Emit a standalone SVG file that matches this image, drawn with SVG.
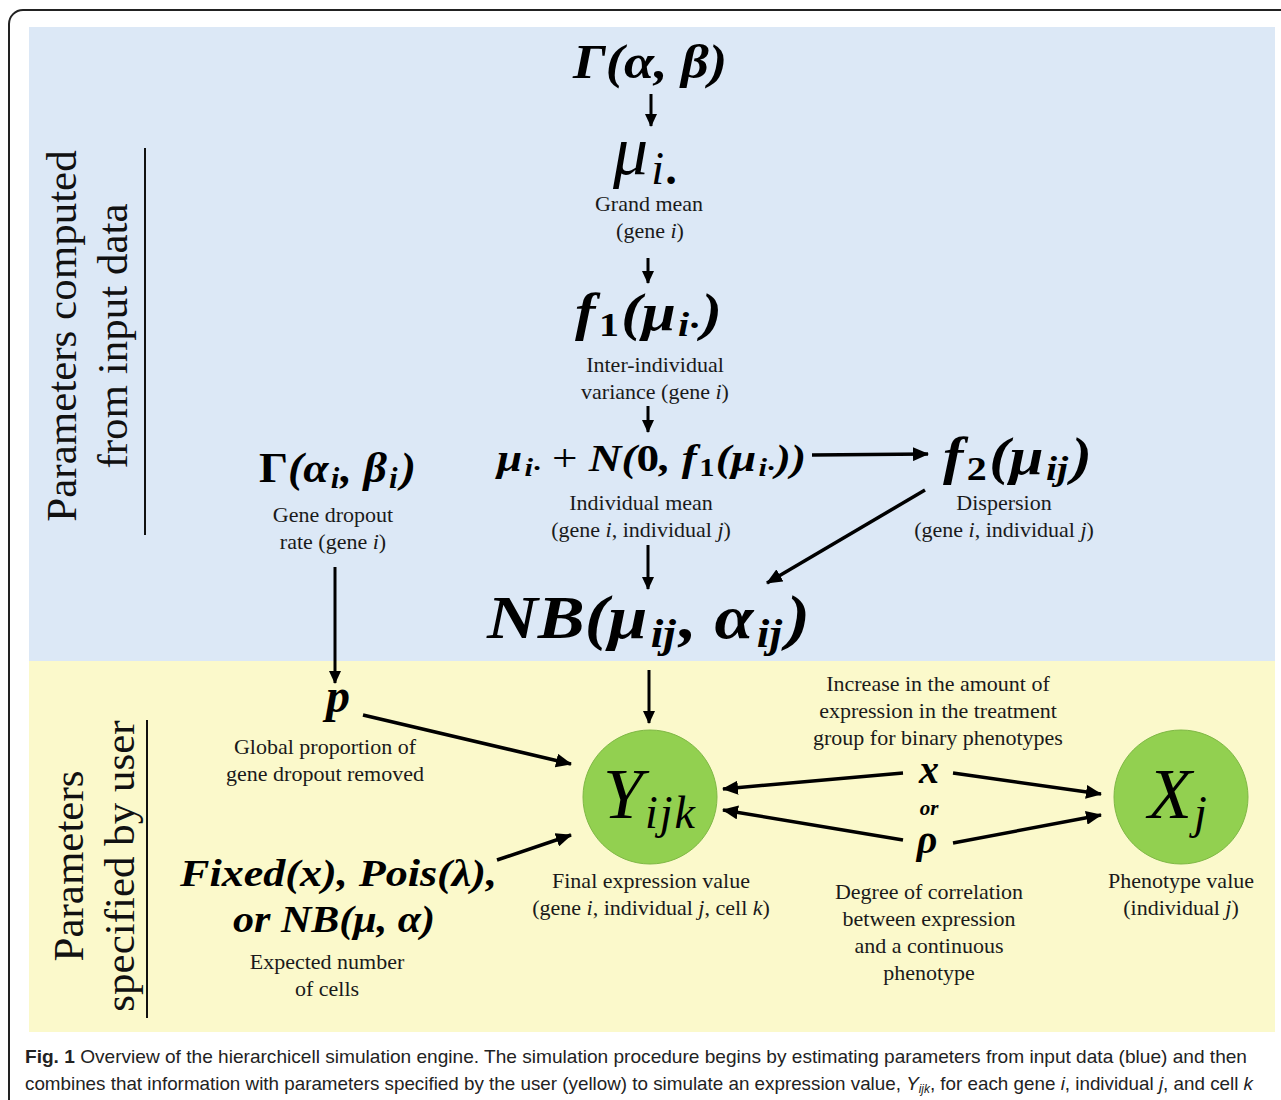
<svg xmlns="http://www.w3.org/2000/svg" width="1281" height="1100" viewBox="0 0 1281 1100">
<defs>
<style>
.lab{font-family:"Liberation Serif",serif;font-size:22px;fill:#1a1a1a;text-anchor:middle}
.m{font-family:"Liberation Serif",serif;font-weight:bold;font-style:italic;fill:#000}
.side{font-family:"Liberation Serif",serif;font-size:43px;fill:#111;text-anchor:middle}
.cap{font-family:"Liberation Sans",sans-serif;font-size:19px;fill:#222}
.conn line{stroke:#000;stroke-width:3.5;fill:none}
.thin{stroke-width:3!important}
.i{font-style:italic}
.u{font-style:normal}
</style>
<marker id="ah" viewBox="0 0 16 14" markerUnits="userSpaceOnUse" markerWidth="16" markerHeight="14" refX="15" refY="7" orient="auto">
<path d="M0,0 L16,7 L0,14 z" fill="#000"/>
</marker>
<marker id="ahs" viewBox="0 0 13 12" markerUnits="userSpaceOnUse" markerWidth="13" markerHeight="12" refX="12" refY="6" orient="auto">
<path d="M0,0 L13,6 L0,12 z" fill="#000"/>
</marker>
</defs>
<rect x="0" y="0" width="1281" height="1100" fill="#fff"/>
<rect x="9" y="10" width="1320" height="1140" rx="14" ry="14" fill="none" stroke="#222" stroke-width="2"/>
<rect x="29" y="27" width="1246" height="634" fill="#dce8f6"/>
<rect x="29" y="661" width="1246" height="371" fill="#fbf9cb"/>

<g id="side-labels">
<text class="side" transform="translate(76,336) rotate(-90)">Parameters computed</text>
<text class="side" transform="translate(127,336) rotate(-90)">from input data</text>
<line x1="145" y1="148" x2="145" y2="535" stroke="#111" stroke-width="2"/>
<text class="side" transform="translate(83,866) rotate(-90)">Parameters</text>
<text class="side" transform="translate(134,866) rotate(-90)">specified by user</text>
<line x1="147" y1="720" x2="147" y2="1018" stroke="#111" stroke-width="2"/>
</g>

<g id="gamma-ab">
<text class="m" x="573" y="78" font-size="48" textLength="154" lengthAdjust="spacingAndGlyphs">Γ(α, β)</text>
</g>

<g id="grand-mean">
<text class="m" x="613" y="174" font-size="70" style="font-weight:normal">μ<tspan font-size="46" dx="3" dy="10">i</tspan><tspan font-size="46" dx="3" style="font-weight:bold">.</tspan></text>
<text class="lab" x="649" y="211">Grand mean</text>
<text class="lab" x="650" y="238">(gene <tspan class="i">i</tspan>)</text>
</g>

<g id="f1">
<text class="m" x="575" y="330" font-size="52" textLength="147" lengthAdjust="spacingAndGlyphs">f<tspan font-size="34" class="u" dx="3" dy="6">1</tspan><tspan dx="2" dy="-6">(μ</tspan><tspan font-size="34" dx="2" dy="6">i·</tspan><tspan dx="2" dy="-6">)</tspan></text>
<text class="lab" x="655" y="372">Inter-individual</text>
<text class="lab" x="655" y="399">variance (gene <tspan class="i">i</tspan>)</text>
</g>

<g id="individual-mean">
<text class="m" x="497" y="471" font-size="37" textLength="309" lengthAdjust="spacingAndGlyphs">μ<tspan font-size="25" dx="2" dy="5">i·</tspan><tspan dy="-5" class="u" style="font-weight:normal"> + </tspan><tspan>N(</tspan><tspan class="u">0</tspan><tspan>, f</tspan><tspan font-size="25" class="u" dx="2" dy="5">1</tspan><tspan dx="1" dy="-5">(μ</tspan><tspan font-size="25" dx="2" dy="5">i·</tspan><tspan dx="1" dy="-5">))</tspan></text>
<text class="lab" x="641" y="510">Individual mean</text>
<text class="lab" x="641" y="537">(gene <tspan class="i">i</tspan>, individual <tspan class="i">j</tspan>)</text>
</g>

<g id="dispersion">
<text class="m" x="943" y="474" font-size="52" textLength="149" lengthAdjust="spacingAndGlyphs">f<tspan font-size="34" class="u" dx="3" dy="6">2</tspan><tspan dx="2" dy="-6">(μ</tspan><tspan font-size="34" dx="2" dy="6">ij</tspan><tspan dx="3" dy="-6">)</tspan></text>
<text class="lab" x="1004" y="510">Dispersion</text>
<text class="lab" x="1004" y="537">(gene <tspan class="i">i</tspan>, individual <tspan class="i">j</tspan>)</text>
</g>

<g id="nb">
<text class="m" x="487" y="638" font-size="62" textLength="323" lengthAdjust="spacingAndGlyphs">NB(μ<tspan font-size="40" dx="3" dy="9">ij</tspan><tspan dx="3" dy="-9">, α</tspan><tspan font-size="40" dx="3" dy="9">ij</tspan><tspan dx="4" dy="-9">)</tspan></text>
</g>

<g id="gene-dropout-rate">
<text class="m" x="259" y="482" font-size="43" textLength="157" lengthAdjust="spacingAndGlyphs"><tspan class="u">Γ</tspan>(α<tspan font-size="29" dx="2" dy="6">i</tspan><tspan dx="1" dy="-6">, β</tspan><tspan font-size="29" dx="2" dy="6">i</tspan><tspan dx="3" dy="-6">)</tspan></text>
<text class="lab" x="333" y="522">Gene dropout</text>
<text class="lab" x="333" y="549">rate (gene <tspan class="i">i</tspan>)</text>
</g>

<g id="p">
<text class="m" x="338" y="712" font-size="48" text-anchor="middle">p</text>
<text class="lab" x="325" y="754">Global proportion of</text>
<text class="lab" x="325" y="781">gene dropout removed</text>
</g>

<g id="cells">
<text class="m" x="180" y="886" font-size="37" textLength="317" lengthAdjust="spacingAndGlyphs">Fixed(x), Pois(λ),</text>
<text class="m" x="233" y="932" font-size="37" textLength="202" lengthAdjust="spacingAndGlyphs">or NB(μ, α)</text>
<text class="lab" x="327" y="969">Expected number</text>
<text class="lab" x="327" y="996">of cells</text>
</g>

<g id="yijk">
<circle cx="650" cy="797" r="67" fill="#92d050" stroke="#7fb845" stroke-width="1"/>
<text x="603" y="818" font-family="Liberation Serif, serif" font-style="italic" font-size="72" fill="#000">Y<tspan font-size="46" dx="2" dy="10" letter-spacing="2">ijk</tspan></text>
<text class="lab" x="651" y="888">Final expression value</text>
<text class="lab" x="651" y="915">(gene <tspan class="i">i</tspan>, individual <tspan class="i">j</tspan>, cell <tspan class="i">k</tspan>)</text>
</g>

<g id="xj">
<circle cx="1181" cy="797" r="67" fill="#92d050" stroke="#7fb845" stroke-width="1"/>
<text x="1148" y="818" font-family="Liberation Serif, serif" font-style="italic" font-size="72" fill="#000">X<tspan font-size="46" dx="2" dy="10">j</tspan></text>
<text class="lab" x="1181" y="888">Phenotype value</text>
<text class="lab" x="1181" y="915">(individual <tspan class="i">j</tspan>)</text>
</g>

<g id="x-binary">
<text class="lab" x="938" y="691">Increase in the amount of</text>
<text class="lab" x="938" y="718">expression in the treatment</text>
<text class="lab" x="938" y="745">group for binary phenotypes</text>
<text class="m" x="929" y="783" font-size="40" text-anchor="middle">x</text>
</g>
<g id="or">
<text class="m" x="929" y="815" font-size="21" text-anchor="middle">or</text>
</g>
<g id="rho-continuous">
<text class="m" x="927" y="853" font-size="40" text-anchor="middle">ρ</text>
<text class="lab" x="929" y="899">Degree of correlation</text>
<text class="lab" x="929" y="926">between expression</text>
<text class="lab" x="929" y="953">and a continuous</text>
<text class="lab" x="929" y="980">phenotype</text>
</g>

<g id="connectors" class="conn">
<line class="thin" x1="651" y1="94" x2="651" y2="126" marker-end="url(#ahs)"/>
<line class="thin" x1="648" y1="258" x2="648" y2="283" marker-end="url(#ahs)"/>
<line class="thin" x1="648" y1="406" x2="648" y2="432" marker-end="url(#ahs)"/>
<line x1="812" y1="455" x2="928" y2="454" marker-end="url(#ah)"/>
<line x1="925" y1="490" x2="767" y2="583" marker-end="url(#ah)"/>
<line class="thin" x1="648" y1="545" x2="648" y2="589" marker-end="url(#ahs)"/>
<line class="thin" x1="335" y1="567" x2="335" y2="683" marker-end="url(#ahs)"/>
<line class="thin" x1="649" y1="670" x2="649" y2="723" marker-end="url(#ahs)"/>
<line x1="363" y1="715" x2="571" y2="764" marker-end="url(#ah)"/>
<line x1="497" y1="860" x2="571" y2="835" marker-end="url(#ah)"/>
<line x1="903" y1="773" x2="723" y2="789" marker-end="url(#ah)"/>
<line x1="903" y1="840" x2="723" y2="810" marker-end="url(#ah)"/>
<line x1="953" y1="773" x2="1101" y2="794" marker-end="url(#ah)"/>
<line x1="953" y1="843" x2="1101" y2="815" marker-end="url(#ah)"/>
</g>

<g id="caption">
<text class="cap" x="25" y="1063" textLength="1222" lengthAdjust="spacingAndGlyphs"><tspan font-weight="bold">Fig. 1</tspan> Overview of the hierarchicell simulation engine. The simulation procedure begins by estimating parameters from input data (blue) and then</text>
<text class="cap" x="25" y="1090" textLength="1228" lengthAdjust="spacingAndGlyphs">combines that information with parameters specified by the user (yellow) to simulate an expression value, <tspan class="i">Y</tspan><tspan class="i" font-size="12" dy="3">ijk</tspan><tspan dy="-3">, for each gene </tspan><tspan class="i">i</tspan>, individual <tspan class="i">j</tspan>, and cell <tspan class="i">k</tspan></text>
</g>
</svg>
